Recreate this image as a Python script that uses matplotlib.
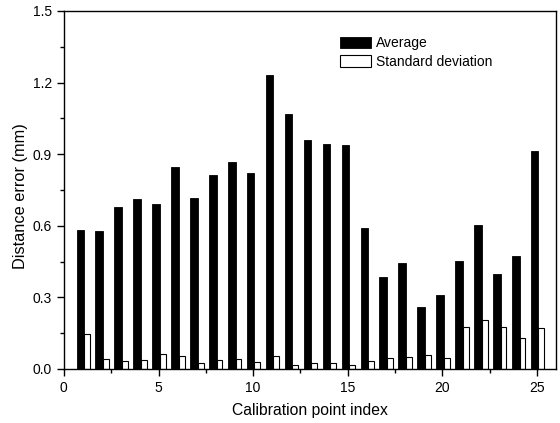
import numpy as np
import matplotlib
matplotlib.use('Agg')
import matplotlib.pyplot as plt
from matplotlib.ticker import MultipleLocator

plt.rcParams['font.family'] = ['Liberation Sans', 'DejaVu Sans']

# 数据：25个标定点的距离误差
points = np.arange(1, 26)
average = [0.581, 0.577, 0.679, 0.713, 0.693, 0.845, 0.716, 0.814, 0.866, 0.821,
           1.233, 1.068, 0.958, 0.944, 0.938, 0.591, 0.387, 0.442, 0.258, 0.310,
           0.454, 0.602, 0.396, 0.473, 0.913]
std_dev = [0.148, 0.040, 0.035, 0.038, 0.061, 0.054, 0.026, 0.036, 0.040, 0.029,
           0.056, 0.018, 0.024, 0.024, 0.017, 0.035, 0.045, 0.050, 0.057, 0.046,
           0.176, 0.204, 0.177, 0.131, 0.170]

fig = plt.figure(figsize=(5.6, 4.23), dpi=100)
ax = fig.add_axes([0.114, 0.1277, 0.879, 0.8463])

ax.bar(points - 0.33, average, width=0.4, align='edge', color='black',
       edgecolor='black', linewidth=0.6, label='Average')
ax.bar(points + 0.07, std_dev, width=0.31, align='edge', color='white',
       edgecolor='black', linewidth=0.8, label='Standard deviation')

ax.set_xlim(0, 26)
ax.set_ylim(0, 1.5)
ax.xaxis.set_major_locator(MultipleLocator(5))
ax.xaxis.set_minor_locator(MultipleLocator(2.5))
ax.yaxis.set_major_locator(MultipleLocator(0.3))
ax.yaxis.set_minor_locator(MultipleLocator(0.15))
ax.yaxis.set_major_formatter(plt.FormatStrFormatter('%.1f'))
ax.tick_params(which='both', direction='out', top=False, right=False, labelsize=10)
ax.tick_params(which='major', length=5, width=1)
ax.tick_params(which='minor', length=3, width=1)
for s in ax.spines.values():
    s.set_linewidth(1.0)

ax.set_xlabel('Calibration point index', fontsize=11.3, labelpad=6)
ax.set_ylabel('Distance error (mm)', fontsize=11.8)
ax.yaxis.set_label_coords(-0.073, 0.483)

ax.legend(loc='upper left', bbox_to_anchor=(0.607, 0.915), bbox_transform=fig.transFigure,
          frameon=False, fontsize=10, handlelength=2.25, handleheight=0.85,
          handletextpad=0.35, labelspacing=0.35, borderpad=0, borderaxespad=0)

fig.savefig('out.png', dpi=100)
